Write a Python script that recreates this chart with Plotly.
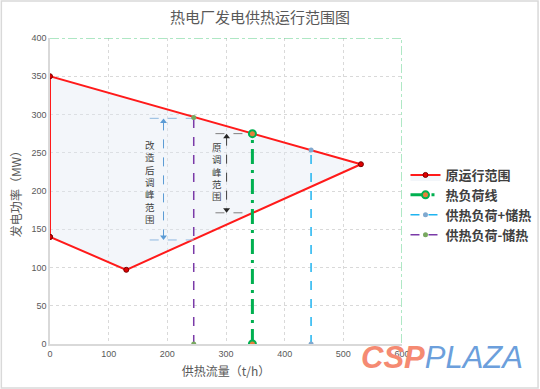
import plotly.graph_objects as go

# ---- data ----
range_x = [0, 130, 530, 0, 0]
range_y = [140, 97, 235, 350, 140]

heat_x = [345, 345]
heat_y = [0, 275]

plus_x = [445, 445]
plus_y = [0, 253.5]

minus_x = [245, 245]
minus_y = [0, 296]

frame_x = [0, 600, 600]
frame_y = [400, 400, 0]

# bracket annotations (span of peak-shaving ranges)
new_bracket_x = [170, 245]
new_bracket_top = 295
new_bracket_bot = 136
new_arrow_x = 193.5
new_label = "改造后调峰范围"

old_bracket_x = [282, 345]
old_bracket_top = 275
old_bracket_bot = 171.5
old_arrow_x = 301
old_label = "原调峰范围"

x_ticks = [0, 100, 200, 300, 400, 500, 600]
y_ticks = [0, 50, 100, 150, 200, 250, 300, 350, 400]

CJK = "Noto Sans CJK SC"

fig = go.Figure()

# green dash-dot frame
fig.add_trace(go.Scatter(x=frame_x, y=frame_y, mode="lines",
                         line=dict(color="#5fd08a", width=1, dash="dashdot"),
                         showlegend=False, hoverinfo="skip"))

# operating range polygon
fig.add_trace(go.Scatter(x=range_x, y=range_y, mode="lines+markers", name="原运行范围",
                         fill="toself", fillcolor="rgba(226,232,243,0.4)",
                         line=dict(color="#ff1a1a", width=2),
                         marker=dict(size=5, color="#e00000", line=dict(color="#7a0000", width=1))))

# brackets: new range (blue)
fig.add_trace(go.Scatter(x=new_bracket_x, y=[new_bracket_top] * 2, mode="lines",
                         line=dict(color="#8fb8e0", width=1, dash="dash"), showlegend=False, hoverinfo="skip"))
fig.add_trace(go.Scatter(x=new_bracket_x, y=[new_bracket_bot] * 2, mode="lines",
                         line=dict(color="#8fb8e0", width=1, dash="dash"), showlegend=False, hoverinfo="skip"))
fig.add_trace(go.Scatter(x=[new_arrow_x, new_arrow_x], y=[new_bracket_top - 4, new_bracket_bot + 4],
                         mode="lines+markers",
                         line=dict(color="#5b9bd5", width=1, dash="dash"),
                         marker=dict(symbol=["triangle-up", "triangle-down"], size=6, color="#5b9bd5"),
                         showlegend=False, hoverinfo="skip"))

# brackets: old range (dark)
fig.add_trace(go.Scatter(x=old_bracket_x, y=[old_bracket_top] * 2, mode="lines",
                         line=dict(color="#7f7f7f", width=1, dash="dash"), showlegend=False, hoverinfo="skip"))
fig.add_trace(go.Scatter(x=old_bracket_x, y=[old_bracket_bot] * 2, mode="lines",
                         line=dict(color="#7f7f7f", width=1, dash="dash"), showlegend=False, hoverinfo="skip"))
fig.add_trace(go.Scatter(x=[old_arrow_x, old_arrow_x], y=[old_bracket_top - 4, old_bracket_bot + 4],
                         mode="lines+markers",
                         line=dict(color="#404040", width=1, dash="dash"),
                         marker=dict(symbol=["triangle-up", "triangle-down"], size=6, color="#262626"),
                         showlegend=False, hoverinfo="skip"))

# heat load line
fig.add_trace(go.Scatter(x=heat_x, y=heat_y, mode="lines+markers", name="热负荷线",
                         line=dict(color="#00b050", width=3, dash="longdashdot"),
                         marker=dict(size=7, color="#e5803a", line=dict(color="#00b050", width=2))))

# heat load + storage
fig.add_trace(go.Scatter(x=plus_x, y=plus_y, mode="lines+markers", name="供热负荷+储热",
                         line=dict(color="#1fb4f0", width=1.5, dash="dash"),
                         marker=dict(size=5, color="#80a9cf")))

# heat load - storage
fig.add_trace(go.Scatter(x=minus_x, y=minus_y, mode="lines+markers", name="供热负荷-储热",
                         line=dict(color="#7a3aa8", width=1.5, dash="dash"),
                         marker=dict(size=5, color="#78a860")))

PW, PH, ML, MB = 353, 306, 49.5, 45

annotations = [
    dict(text="<br>".join(new_label), x=171, y=212, xref="x", yref="y",
         showarrow=False, font=dict(family=CJK, size=9.5, color="#404040")),
    dict(text="<br>".join(old_label), x=285, y=225, xref="x", yref="y",
         showarrow=False, font=dict(family=CJK, size=9.5, color="#404040")),
    dict(text="<span style='color:#f58a72'><b><i>CSP</i></b></span><span style='color:#6c9fdc'><i>PLAZA</i></span>",
         x=(443 - ML) / PW, y=(344 - 357) / PH, xref="paper", yref="paper",
         xanchor="center", yanchor="middle",
         showarrow=False, font=dict(family="Liberation Sans", size=31)),
]

fig.update_layout(
    width=540, height=389,
    margin=dict(l=ML, r=540 - ML - PW, t=38, b=MB, autoexpand=False),
    paper_bgcolor="white", plot_bgcolor="white",
    title=dict(text="热电厂发电供热运行范围图", x=260 / 540, xanchor="center", y=1 - 18 / 389,
               yanchor="middle", font=dict(family=CJK, size=15, color="#595959")),
    xaxis=dict(range=[0, 600], tickvals=x_ticks, showgrid=True, gridcolor="#d9d9d9", griddash="dot",
               zeroline=False, showline=True, linecolor="#d9d9d9", linewidth=1.5, automargin=False,
               tickfont=dict(family="Liberation Sans", size=9, color="#595959"),
               title=dict(text="供热流量（t/h）", font=dict(family=CJK, size=12, color="#595959"), standoff=10)),
    yaxis=dict(range=[0, 400], tickvals=y_ticks, showgrid=True, gridcolor="#d9d9d9", griddash="dot",
               zeroline=False, showline=True, linecolor="#d9d9d9", linewidth=1.5, automargin=False,
               tickfont=dict(family="Liberation Sans", size=9, color="#595959"),
               title=dict(text="发电功率（MW）", font=dict(family=CJK, size=12, color="#595959"), standoff=7)),
    legend=dict(x=(406 - ML) / PW, y=(344 - 160) / PH, xanchor="left", yanchor="top",
                font=dict(family=CJK, size=13, color="#404040", weight="bold"),
                bgcolor="rgba(0,0,0,0)", itemwidth=30, tracegroupgap=0),
    annotations=annotations,
    shapes=[dict(type="rect", xref="paper", yref="paper",
                 x0=-ML / PW + 0.002, x1=(540 - ML) / PW - 0.003,
                 y0=-MB / PH + 0.003, y1=(389 - MB) / PH - 0.003,
                 line=dict(color="#d9d9d9", width=1.5), layer="below")],
)

fig.write_html("out.html", config={"displayModeBar": False},
               post_script="document.body.style.margin='0';")
